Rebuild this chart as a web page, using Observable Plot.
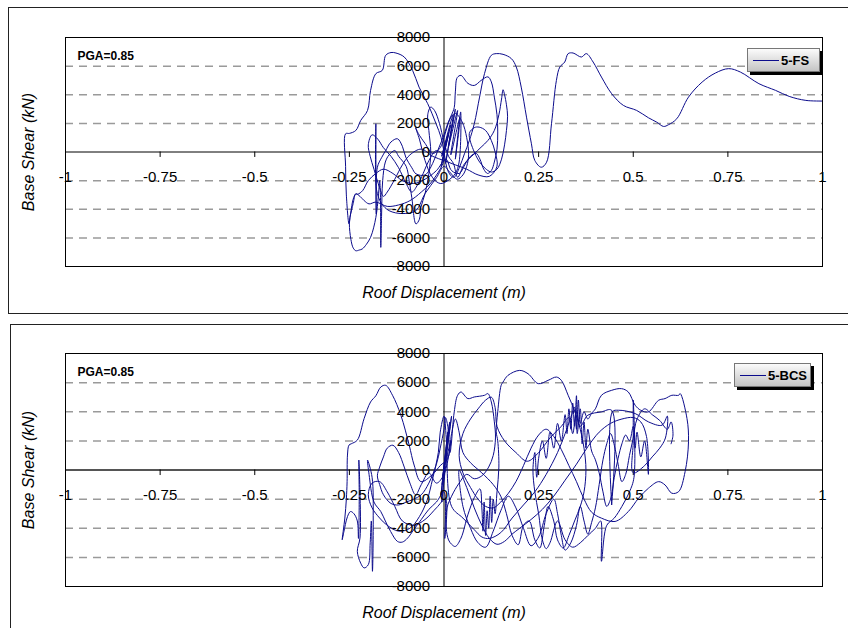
<!DOCTYPE html>
<html><head><meta charset="utf-8">
<script src="https://cdn.jsdelivr.net/npm/d3@7"></script>
<script src="https://cdn.jsdelivr.net/npm/@observablehq/plot@0.6"></script>
<style>
body{margin:0;background:#fff;font-family:"Liberation Sans",Arial,sans-serif;}
#wrap{position:relative;width:848px;height:628px;overflow:hidden;background:#fff;}
.frame{position:absolute;border:1.5px solid #222;box-sizing:border-box;}
.chart{position:absolute;left:0;}
.legend{position:absolute;height:24px;box-sizing:border-box;border:1px solid #777;
  background:linear-gradient(to bottom,#fbfbfb,#c4c4c4);box-shadow:3px 3px 0 #000;
  display:flex;align-items:center;font-weight:bold;font-size:13px;padding-left:5px;}
.legend .sw{width:26px;height:0;border-top:1.3px solid #0c0c8c;margin-right:2px;}
</style></head>
<body><div id="wrap"></div>
<script>
// ---- tick values & labels ----
const xTicks = [-1, -0.75, -0.5, -0.25, 0, 0.25, 0.5, 0.75, 1];
const yTicks = [-8000, -6000, -4000, -2000, 0, 2000, 4000, 6000, 8000];
const gridVals = [-6000, -4000, -2000, 2000, 4000, 6000];
const seriesNames = ["5-FS", "5-BCS"];
const pgaLabel = "PGA=0.85";
const xTitle = "Roof Displacement (m)";
const yTitle = "Base Shear (kN)";

// ---- 5-FS hysteresis: [roof displacement (m), base shear (kN)] ----
const fsLoop = [
[0,0],[0.006,700],[-0.004,-600],[0.012,1300],[-0.008,-1000],[0.018,1900],[-0.006,-300],[0.024,2600],[0.004,-800],[0.03,3000],[0.012,400],[0.036,2900],[0.018,-200],[0.042,2400],[0.03,-500],[0.044,2800],[0.04,-700],
[0.03,-1500],[0.01,-2000],[-0.01,-2200],[-0.03,-1800],[-0.05,-600],[-0.065,900],[-0.075,1700],[-0.068,1300],[-0.05,600],[-0.03,-100],[-0.01,300],[0.0,1000],[0.01,1900],[0.02,2500],[0.03,2700],[0.048,2100],[0.06,1000],[0.065,-200],[0.06,-1000],[0.05,-1600],[0.035,-1900],[0.015,-1400],[0,-1000],
[-0.02,-1800],[-0.05,-2900],[-0.075,-4100],[-0.11,-4300],[-0.145,-4100],[-0.165,-3600],[-0.176,-2900],[-0.18,-2200],[-0.18,1974],[-0.179,-4326],[-0.176,-1064],[-0.165,-400],[-0.154,105],[-0.14,700],[-0.123,924],[-0.11,400],[-0.101,-364],[-0.085,-1100],[-0.074,-1526],[-0.05,-1600],[-0.03,-800],[-0.015,200],[0.0,1200],[0.01,2000],[0.02,2600],[0.027,3100],
[0.03,4200],[0.035,5200],[0.045,5350],[0.063,4800],[0.08,4650],[0.098,5000],[0.116,5250],[0.125,4900],[0.133,3836],[0.14,2600],[0.142,1400],[0.14,200],[0.133,-700],[0.125,-1300],[0.115,-1500],[0.105,-1200],[0.095,-500],[0.085,-100],[0.07,-300],[0.055,-900],[0.04,-1500],[0.02,-1300],[0.005,-500],
[-0.02,-1300],[-0.05,-1900],[-0.08,-2200],[-0.11,-2000],[-0.135,-1500],[-0.16,-1200],[-0.18,-1500],[-0.2,-2000],[-0.215,-2700],[-0.228,-2950],[-0.233,-2926],[-0.24,-3300],[-0.246,-4200],[-0.25,-5000],[-0.246,-6100],[-0.24,-6700],[-0.233,-6900],[-0.224,-6850],[-0.216,-6776],[-0.205,-6450],[-0.194,-5964],[-0.186,-5300],[-0.18,-4564],[-0.176,-3800],[-0.172,-2600],[-0.17,-2000],[-0.168,-3000],[-0.167,-6664],[-0.165,-4500],[-0.162,-2000],[-0.155,-700],[-0.145,-200],[-0.13,100],
[-0.12,-300],[-0.1,-1000],[-0.092,-2000],[-0.085,-3200],[-0.074,-5026],[-0.065,-4700],[-0.061,-3860],[-0.05,-2900],[-0.04,-1500],[-0.035,0],[-0.04,1500],[-0.043,2600],[-0.035,3136],[-0.025,2900],[-0.012,2000],[0.0,700],[0.012,-300],[0.025,-800],
[0.036,-1764],[0.054,-826],[0.08,-126],[0.098,336],[0.116,805],[0.133,1505],[0.145,2600],[0.152,3700],[0.156,4350],[0.16,4000],[0.165,3300],[0.168,2500],[0.165,1500],[0.16,500],[0.152,-500],[0.14,-1200],[0.125,-1400],[0.1,-900],[0.08,0],[0.067,1300],[0.08,1700],[0.093,1736],[0.11,1500],[0.125,805],[0.135,0],[0.14,-1000],
[0.12,-1700],[0.09,-1600],[0.06,-1200],[0.03,-900],[0.0,-600],[-0.03,-300],[-0.06,200],[-0.09,-200],[-0.11,-900],[-0.13,-1900],[-0.15,-2800],[-0.16,-3100],[-0.17,-2500],[-0.185,-1200],[-0.195,-300],[-0.2,500],[-0.19,1200],[-0.175,900],[-0.16,300],[-0.14,-300],[-0.12,-1100],[-0.1,-2200],[-0.085,-2800],[-0.07,-2300],[-0.055,-1500],[-0.04,-600],[-0.02,100],[0.0,-400],
[-0.03,-2000],[-0.06,-2800],[-0.09,-3400],[-0.12,-3700],[-0.15,-3800],[-0.18,-3500],[-0.198,-3626],[-0.211,-3395],[-0.222,-3100],[-0.233,-2926],[-0.24,-3600],[-0.248,-4500],[-0.251,-5026],[-0.258,-3000],[-0.26,-1000],[-0.26,1274],[-0.25,1300],[-0.233,1505],[-0.22,2205],[-0.202,2905],[-0.194,4305],[-0.18,5474],[-0.163,5705],[-0.154,6755],[-0.14,6950],[-0.127,6916],[-0.105,6636],[-0.083,5705],[-0.066,4536],[-0.043,3374],[-0.021,1974],[-0.008,1036],[0.0,0],[0.005,-800],[0.01,-1295],[0.02,-1700],[0.027,-1764],
[0.041,-1064],[0.054,-126],[0.067,805],[0.08,1974],[0.094,3836],[0.107,5474],[0.125,6755],[0.138,6874],[0.156,6825],[0.178,6524],[0.191,5936],[0.204,4536],[0.218,2436],[0.231,574],[0.24,-595],[0.257,-1064],[0.271,-714],[0.284,1974],[0.297,5005],[0.306,5936],[0.319,6286],[0.328,6874],[0.341,6916],[0.363,6636],[0.376,6874],[0.394,6286],[0.416,5236],[0.443,4074],[0.474,3255],[0.509,2905],[0.54,2394],[0.562,2086],[0.58,1785],[0.593,1904],[0.615,2324],[0.646,3836],[0.682,4886],[0.717,5516],[0.752,5824],[0.783,5586],[0.832,4774],[0.876,4305],[0.912,3885],[0.956,3605],[1.0,3560]
];

// ---- 5-BCS hysteresis ----
const bcsLoop = [
[0,0],[0.006,1400],[-0.005,-1000],[0.01,2600],[-0.008,-1700],[0.015,3300],[-0.003,-400],[0.02,3700],[0.004,600],[0.012,2800],[-0.006,-2200],[0.008,900],[0.018,2000],[0.0,-300],
[-0.02,-900],[-0.04,-200],[-0.06,-1000],[-0.075,-1700],[-0.09,-900],[-0.105,200],[-0.12,1200],[-0.135,1700],[-0.15,1500],[-0.16,900],[-0.17,200],[-0.176,-400],[-0.17,-1000],[-0.16,-1700],[-0.14,-2300],[-0.12,-2400],[-0.1,-2200],[-0.08,-2000],[-0.06,-1700],[-0.04,-900],[-0.02,400],[-0.01,1500],[0.0,2800],[0.004,3600],[0.01,3000],[0.016,1200],
[0.019,1710],[0.027,3990],[0.036,5130],[0.045,5356],[0.063,4904],[0.08,5014],[0.107,5130],[0.116,5246],[0.125,4672],[0.133,3306],[0.136,2200],[0.13,1000],[0.118,200],[0.1,-400],[0.08,-600],[0.06,-300],[0.04,-900],[0.02,-1800],[0.008,-2600],[0.006,-4000],[0.012,-4800],[0.02,-5100],[0.03,-5250],[0.045,-4672],[0.063,-3078],[0.08,-1900],[0.095,-1300],[0.1,-2600],[0.103,-4200],[0.106,-2200],[0.11,-4500],[0.114,-2800],[0.118,-4000],[0.122,-1800],[0.126,-3600],[0.13,-2000],[0.135,-3000],[0.14,-1500],
[0.145,200],[0.142,2000],[0.138,2620],[0.142,3990],[0.151,5814],[0.156,6040],[0.169,6498],[0.2,6840],[0.222,6612],[0.249,5930],[0.275,6156],[0.297,6382],[0.31,6156],[0.328,5130],[0.346,3990],[0.36,2800],[0.37,1500],[0.375,0],[0.37,-1500],[0.36,-2500],[0.345,-3500],[0.33,-4500],[0.315,-5356],[0.3,-4800],[0.29,-3500],[0.275,-2500],[0.265,-3800],[0.253,-5356],[0.24,-4800],[0.225,-3500],[0.21,-3800],[0.196,-5130],[0.18,-4500],[0.165,-3000],[0.15,-1800],[0.13,-1000],[0.1,-200],[0.07,500],[0.05,1200],[0.04,2600],[0.03,3500],[0.02,2500],[0.01,800],
[-0.01,300],[-0.03,-300],[-0.061,-800],[-0.079,342],[-0.092,1710],[-0.114,3762],[-0.136,5130],[-0.154,5814],[-0.167,5698],[-0.18,5100],[-0.194,4672],[-0.211,3536],[-0.229,2052],[-0.245,1800],[-0.251,1710],[-0.255,1026],[-0.256,-800],[-0.258,-2000],[-0.262,-3300],[-0.269,-4788],[-0.265,-4300],[-0.255,-3200],[-0.247,-2852],[-0.238,-3000],[-0.229,-3500],[-0.226,-4700],[-0.224,-2000],[-0.225,684],[-0.222,-1500],[-0.222,-4672],[-0.229,-5588],[-0.22,-6400],[-0.211,-6724],[-0.2,-6500],[-0.195,-5000],[-0.192,-3500],[-0.189,-6956],[-0.187,-3500],[-0.19,-500],[-0.202,684],[-0.198,-300],[-0.185,-2200],[-0.167,-2852],[-0.155,-3500],[-0.141,-4220],[-0.123,-4904],[-0.11,-4950],[-0.096,-4672],[-0.08,-4100],[-0.06,-3400],[-0.04,-2700],[-0.02,-2200],[0.0,-1500],[0.002,-4700],[0.004,-2000],
[-0.02,-2600],[-0.05,-3400],[-0.08,-3800],[-0.11,-3500],[-0.13,-2500],[-0.15,-1500],[-0.17,-800],[-0.19,-900],[-0.2,-1700],[-0.19,-2600],[-0.17,-3300],[-0.15,-3800],[-0.12,-4200],[-0.09,-4000],[-0.065,-3200],[-0.045,-2100],[-0.03,-600],[-0.015,1200],[-0.01,2600],[0.0,3700],[0.006,2200],
[0.02,-2500],[0.05,-3300],[0.08,-4100],[0.1,-4600],[0.12,-4700],[0.15,-4300],[0.18,-3300],[0.21,-2400],[0.24,-1500],[0.27,-300],[0.3,1200],[0.32,2500],[0.335,3600],[0.345,4300],[0.35,2800],[0.355,4800],[0.36,3200],[0.37,4000],[0.38,3500],[0.39,3900],[0.4,4200],[0.416,5130],[0.443,5472],[0.469,5586],[0.487,5356],[0.505,4446],[0.52,4100],[0.54,3990],[0.567,4788],[0.584,4904],[0.602,5130],[0.62,5130],[0.624,5246],[0.642,3534],[0.646,1938],[0.637,-114],[0.62,-1482],[0.602,-1596],[0.584,-1026],[0.567,-800],[0.54,-1254],[0.514,-1938],[0.487,-2852],[0.452,-3534],[0.416,-3306],[0.39,-2900],[0.37,-2000],[0.35,-800],[0.33,300],[0.31,1400],[0.29,2300],[0.27,2800],[0.25,2400],[0.23,1500],[0.21,300],[0.19,-800],[0.17,-1600],[0.15,-2200],[0.13,-2600],[0.11,-2500],[0.09,-2000],[0.07,-1200],[0.05,-200],[0.04,1000],[0.05,2500],[0.07,3500],[0.09,4200],[0.11,4800],[0.125,5000],[0.135,4300],[0.14,3000],
[0.16,2000],[0.19,1200],[0.22,600],[0.25,1200],[0.28,2200],[0.31,3000],[0.33,3600],[0.34,2500],[0.35,4000],[0.36,3000],[0.38,3762],[0.416,3990],[0.443,4100],[0.443,-2400],[0.445,4000],[0.461,4104],[0.505,3876],[0.54,3306],[0.576,3078],[0.59,3700],[0.585,2200],[0.57,1500],[0.55,900],[0.53,300],[0.5,-200],[0.5,2000],[0.5,4800],[0.502,-500],[0.49,-1500],[0.47,-2500],[0.45,-3300],[0.43,-3800],[0.416,-6270],[0.414,-3500],[0.4,-4000],[0.38,-4500],[0.36,-5000],[0.34,-5300],[0.32,-4800],[0.3,-3500],
[0.28,-5000],[0.27,-5400],[0.26,-4800],[0.25,-3000],[0.24,-1500],[0.235,0],[0.24,1200],[0.245,-500],[0.25,800],[0.26,2000],[0.27,800],[0.28,2600],[0.29,1500],[0.3,3200],[0.31,2000],[0.32,3800],[0.325,2500],[0.33,4200],[0.335,2800],[0.34,4600],[0.345,3000],[0.35,5100],[0.352,2500],[0.36,4200],[0.365,1800],[0.37,3300],[0.375,1500],[0.38,2800],[0.39,1300],[0.4,700],[0.41,-200],[0.42,-1500],[0.43,-2500],[0.44,-2000],[0.45,-500],[0.46,800],[0.47,1800],[0.48,2400],[0.49,2000],[0.5,3000],[0.505,1500],[0.51,2600],[0.52,900],[0.53,2000],[0.54,-300],[0.535,2300],[0.52,3300],[0.5,3600],[0.47,3500],[0.44,3200],[0.41,2600],[0.38,1600],[0.35,400],[0.32,-700],[0.29,-1800],[0.26,-2700],[0.23,-3400],[0.2,-4000],[0.18,-4400],[0.16,-4900],[0.14,-5100],[0.12,-4700],[0.1,-3800],[0.08,-2600],[0.06,-1200],[0.04,0],
[0.05,-2500],[0.07,-4000],[0.09,-5000],[0.11,-5300],[0.13,-4200],[0.15,-2800],[0.17,-1800],[0.19,-2600],[0.21,-4000],[0.23,-5200],[0.25,-4600],[0.27,-3000],[0.29,-2000],[0.3,-3000],[0.31,-4500],[0.32,-5500],[0.335,-5000],[0.35,-3800],[0.36,-2500],[0.37,-3500],[0.38,-4400],[0.39,-3600],[0.4,-2600],[0.41,-1000],[0.42,700],[0.43,1800],[0.44,2500],[0.45,1700],[0.46,400],[0.47,-800],[0.48,-300],[0.49,1000],[0.5,2200],[0.51,3500],[0.53,4200],[0.55,3800],[0.57,3400],[0.59,2800],[0.6,3300],[0.605,2400],[0.6,1800]
];

const panels = [
  {loop: fsLoop, name: seriesNames[0], top: 0, height: 300, mt: 37, mb: 34, frameTop: 7, frameH: 307, frameLeft: 8, legLeft: 747, legTop: 48, legW: 73, zero: "#000", zeroW: 1},
  {loop: bcsLoop, name: seriesNames[1], top: 310, height: 318, mt: 43, mb: 42, frameTop: 324, frameH: 320, frameLeft: 10, legLeft: 734, legTop: 363, legW: 77, zero: "#555", zeroW: 2}
];

const wrap = document.getElementById("wrap");
const fmt = d => String(d);

for (const p of panels) {
  const fr = document.createElement("div");
  fr.className = "frame";
  fr.style.left = p.frameLeft + "px";
  fr.style.top = p.frameTop + "px";
  fr.style.width = (860 - p.frameLeft) + "px";
  fr.style.height = p.frameH + "px";
  wrap.appendChild(fr);

  const chart = Plot.plot({
    width: 848, height: p.height,
    marginLeft: 65, marginRight: 26, marginTop: p.mt, marginBottom: p.mb,
    x: {domain: [-1, 1], axis: null},
    y: {domain: [-8000, 8000], axis: null},
    style: {fontFamily: "'Liberation Sans', Arial, sans-serif", background: "transparent", overflow: "visible", color: "#000"},
    marks: [
      Plot.ruleY(gridVals, {stroke: "#9a9a9a", strokeDasharray: "8,6", strokeWidth: 1.5}),
      Plot.ruleY([0], {stroke: p.zero, strokeWidth: p.zeroW}),
      Plot.ruleX([0], {stroke: "#000", strokeWidth: 1}),
      Plot.ruleX(xTicks, {x: d => d, y1: 0, y2: -380, stroke: "#000"}),
      Plot.line(p.loop, {x: d => d[0], y: d => d[1], stroke: "#0c0c8c", strokeWidth: 1, clip: true, curve: "catmull-rom"}),
      Plot.text(yTicks, {x: 0, y: d => d, text: fmt, textAnchor: "end", dx: -14, fontSize: 15, fill: "#000"}),
      Plot.text(xTicks, {x: d => d, y: 0, text: fmt, dy: 25, fontSize: 15, fill: "#000"}),
      Plot.frame({stroke: "#000", strokeWidth: 1}),
      Plot.text([pgaLabel], {frameAnchor: "top-left", lineAnchor: "middle", dx: 12, dy: 19, fontWeight: "bold", fontSize: 12, fill: "#000"}),
      Plot.text([xTitle], {frameAnchor: "bottom", lineAnchor: "middle", dy: 26, fontStyle: "italic", fontSize: 16, fill: "#000"}),
      Plot.text([yTitle], {frameAnchor: "left", textAnchor: "middle", dx: -37, rotate: -90, fontStyle: "italic", fontSize: 16, fill: "#000"})
    ]
  });
  chart.classList.add("chart");
  chart.style.top = p.top + "px";
  wrap.appendChild(chart);

  const lg = document.createElement("div");
  lg.className = "legend";
  lg.style.left = p.legLeft + "px";
  lg.style.top = p.legTop + "px";
  lg.style.width = p.legW + "px";
  const sw = document.createElement("span");
  sw.className = "sw";
  lg.appendChild(sw);
  lg.appendChild(document.createTextNode(p.name));
  wrap.appendChild(lg);
}
</script>
</body></html>
